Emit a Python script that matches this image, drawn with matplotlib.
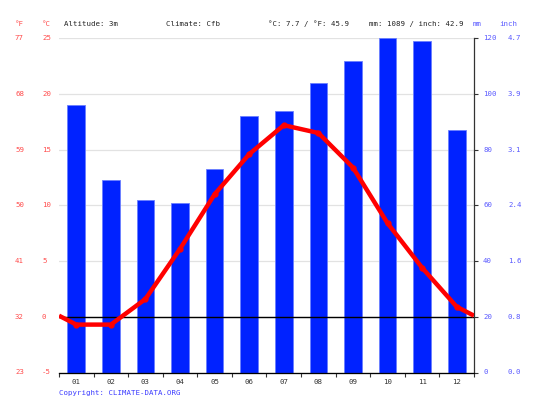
import matplotlib.pyplot as plt
import matplotlib.transforms as mtransforms
import numpy as np

months = ["01", "02", "03", "04", "05", "06", "07", "08", "09", "10", "11", "12"]
precip_mm = [96, 69, 62, 61, 73, 92, 94, 104, 112, 120, 119, 87]
temp_c = [-0.7, -0.7, 1.6, 6.1, 11.0, 14.6, 17.2, 16.5, 13.4, 8.4, 4.4, 0.9]
c_ticks = [-5, 0, 5, 10, 15, 20, 25]
mm_ticks = [0, 20, 40, 60, 80, 100, 120]
header = [("Altitude: 3m", 64), ("Climate: Cfb", 166),
          ("°C: 7.7 / °F: 45.9", 268), ("mm: 1089 / inch: 42.9", 369)]

font = "DejaVu Sans Mono"
fs = 5.3
red_txt = "#ff4d4d"
blue_txt = "#5a5aff"

W, H = 533, 400
fig = plt.figure(figsize=(W / 100, H / 100), dpi=100)
left, right, top, bottom = 59, 474, 38.3, 372.5
ax = fig.add_axes([left / W, 1 - bottom / H, (right - left) / W, (bottom - top) / H])
ax2 = ax.twinx()

x = np.arange(1, 13)

# precipitation bars
ax.bar(x, precip_mm, width=0.51, color="#0022ff", edgecolor="#6a7fff", linewidth=0.6, zorder=2)
ax.set_ylim(0, 120)
ax.set_xlim(0.5, 12.5)
for m in mm_ticks:
    ax.axhline(m, color="#e2e2e2", lw=0.9, zorder=0)

# temperature line, extended to the edges
edge = (temp_c[0] + temp_c[-1]) / 2
lx = np.concatenate([[0.5], x, [12.5]])
ly = np.concatenate([[edge], temp_c, [edge]])
ax2.set_ylim(-5, 25)
ax2.axhline(0, color="black", lw=1.0, zorder=3)
ax2.plot(lx, ly, color="#ff0000", lw=3.2, solid_capstyle="butt", zorder=4)
ax2.plot(x, temp_c, "o", color="#ff0000", ms=3.5, zorder=5)

for a in (ax, ax2):
    a.set_yticks([])
    a.spines["top"].set_visible(False)
    a.spines["left"].set_visible(False)
ax.spines["right"].set_visible(False)
ax2.spines["right"].set_color("#333333")
ax2.spines["right"].set_linewidth(0.9)
ax.spines["bottom"].set_color("#333333")
ax.spines["bottom"].set_linewidth(0.9)

ax.set_xticks(np.arange(0.5, 13, 1))
ax.set_xticklabels([])
ax.tick_params(axis="x", which="major", length=3, width=0.8, color="#333333")
ax.set_xticks(x, minor=True)
ax.set_xticklabels(months, minor=True, fontfamily=font, fontsize=fs, color="#333333")
ax.tick_params(axis="x", which="minor", length=0, pad=5)

# right spine ticks
ax2.set_yticks([c for c in c_ticks])
ax2.set_yticklabels([])
ax2.tick_params(axis="y", length=3, width=0.8, color="#333333")

# axis labels
tl = mtransforms.blended_transform_factory(fig.transFigure, ax2.transData)
for c in c_ticks:
    f = c * 9 / 5 + 32
    fig.text(15 / W, c, f"{f:.0f}", transform=tl, fontfamily=font, fontsize=fs,
             color=red_txt, va="center", ha="left")
    fig.text(42 / W, c, f"{c}", transform=tl, fontfamily=font, fontsize=fs,
             color=red_txt, va="center", ha="left")
tr = mtransforms.blended_transform_factory(fig.transFigure, ax.transData)
for m in mm_ticks:
    fig.text(483 / W, m, f"{m}", transform=tr, fontfamily=font, fontsize=fs,
             color=blue_txt, va="center", ha="left")
    fig.text(508 / W, m, f"{m / 25.4:.1f}", transform=tr, fontfamily=font, fontsize=fs,
             color=blue_txt, va="center", ha="left")

hy = 1 - 24 / H
fig.text(15 / W, hy, "°F", fontfamily=font, fontsize=fs, color=red_txt, va="center")
fig.text(42 / W, hy, "°C", fontfamily=font, fontsize=fs, color=red_txt, va="center")
for txt, px in header:
    fig.text(px / W, hy, txt, fontfamily=font, fontsize=fs, color="#222222", va="center")
fig.text(473 / W, hy, "mm", fontfamily=font, fontsize=fs, color=blue_txt, va="center")
fig.text(499 / W, hy, "inch", fontfamily=font, fontsize=fs, color=blue_txt, va="center")

fig.text(59 / W, 1 - 392.7 / H, "Copyright: CLIMATE-DATA.ORG", fontfamily=font,
         fontsize=fs, color="#3b3bff", va="center")

fig.savefig("out.png", dpi=100)
